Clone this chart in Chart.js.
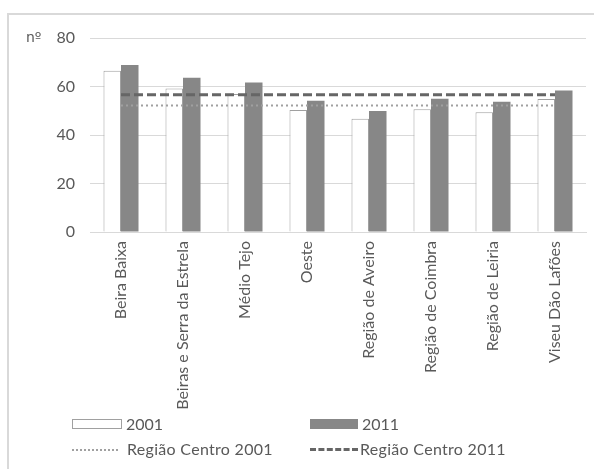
<!DOCTYPE html>
<html>
<head>
<meta charset="utf-8">
<script src="https://cdn.jsdelivr.net/npm/chart.js@4/dist/chart.umd.min.js"></script>
<style>
    html, body { margin: 0; padding: 0; background: #fff; overflow: hidden; }
    body { width: 594px; height: 469px; position: relative; font-family: Lato, sans-serif; color: #595959; }
    .frame { position: absolute; left: 7px; top: 13px; width: 640px; height: 520px; border: 2px solid #d9d9d9; box-sizing: border-box; }
    #wrap { position: absolute; left: 0; top: 0; width: 594px; height: 469px; }
    .legend-item { position: absolute; font-size: 16px; line-height: 20px; white-space: nowrap; }
    .swatch { position: absolute; box-sizing: border-box; }
</style>
</head>
<body>
<div class="frame"></div>
<div id="wrap"><canvas id="chart" width="594" height="469"></canvas></div>

<!-- legend, two columns under the axis labels -->
<div class="swatch" style="left:72px; top:419px; width:50px; height:10px; border:1px solid #a0a0a0; background:#fff;"></div>
<div class="legend-item" style="left:126px; top:414px;">2001</div>
<div class="swatch" style="left:310px; top:419px; width:48px; height:10px; background:#878787;"></div>
<div class="legend-item" style="left:362px; top:414px;">2011</div>
<div class="swatch" style="left:72px; top:449px; width:46px; height:0; border-top:2px dotted #a0a0a0;"></div>
<div class="legend-item" style="left:127px; top:439px; letter-spacing:0.3px;">Região Centro 2001</div>
<div class="swatch" style="left:310px; top:448px; width:48px; height:0; border-top:3px dashed #666;"></div>
<div class="legend-item" style="left:360px; top:439px; letter-spacing:0.3px;">Região Centro 2011</div>

<script>
    const regions = ["Beira Baixa", "Beiras e Serra da Estrela", "Médio Tejo", "Oeste",
        "Região de Aveiro", "Região de Coimbra", "Região de Leiria", "Viseu Dão Lafões"];
    const values2001 = [66.5, 59.2, 56.9, 50.3, 46.7, 50.6, 49.4, 54.8];
    const values2011 = [68.9, 63.6, 61.6, 54.1, 49.9, 55.0, 53.7, 58.4];
    const centro2001 = [52.2, 52.2, 52.2, 52.2, 52.2, 52.2, 52.2, 52.2];
    const centro2011 = [56.6, 56.6, 56.6, 56.6, 56.6, 56.6, 56.6, 56.6];
    const yTicks = [0, 20, 40, 60, 80];

    const textColor = "#595959";
    const gridColor = "#d9d9d9";
    const labelFont = { family: "Lato", size: 16 };

    // unit label "nº" next to the top tick
    const unitLabel = {
        id: "unitLabel",
        afterDraw(chart) {
            const ctx = chart.ctx;
            const y = chart.scales.y.getPixelForValue(yTicks[yTicks.length - 1]);
            ctx.save();
            ctx.fillStyle = textColor;
            ctx.font = "14px 'DejaVu Sans'";
            ctx.textBaseline = "middle";
            ctx.fillText("nº", 26, y);
            ctx.restore();
        }
    };

    new Chart(document.getElementById("chart"), {
        data: {
            labels: regions,
            datasets: [
                {
                    type: "line",
                    label: "Região Centro 2001",
                    data: centro2001,
                    borderColor: "#a0a0a0",
                    borderWidth: 2,
                    borderDash: [2, 3],
                    pointRadius: 0,
                    fill: false,
                    order: 0
                },
                {
                    type: "line",
                    label: "Região Centro 2011",
                    data: centro2011,
                    borderColor: "#666666",
                    borderWidth: 3,
                    borderDash: [9, 4],
                    pointRadius: 0,
                    fill: false,
                    order: 0
                },
                {
                    type: "bar",
                    label: "2001",
                    data: values2001,
                    backgroundColor: "#ffffff",
                    borderColor: "#a0a0a0",
                    borderWidth: 1,
                    categoryPercentage: 0.565,
                    barPercentage: 1,
                    order: 1
                },
                {
                    type: "bar",
                    label: "2011",
                    data: values2011,
                    backgroundColor: "#878787",
                    borderWidth: 0,
                    categoryPercentage: 0.565,
                    barPercentage: 1,
                    order: 1
                }
            ]
        },
        options: {
            responsive: false,
            animation: false,
            layout: { padding: { left: 0, top: 38, right: 8, bottom: 0 } },
            scales: {
                x: {
                    offset: true,
                    afterFit(scale) { scale.height = 237; },
                    grid: { display: false, drawTicks: false },
                    border: { color: gridColor, width: 1 },
                    ticks: {
                        color: textColor,
                        font: labelFont,
                        minRotation: 90,
                        maxRotation: 90,
                        autoSkip: false,
                        padding: 9
                    }
                },
                y: {
                    min: 0,
                    max: 80,
                    afterFit(scale) { scale.width = 90; },
                    grid: { color: gridColor, drawTicks: false },
                    border: { display: false },
                    ticks: {
                        stepSize: 20,
                        color: textColor,
                        font: labelFont,
                        padding: 15
                    }
                }
            },
            plugins: {
                legend: { display: false },
                tooltip: { enabled: false }
            }
        },
        plugins: [unitLabel]
    });
</script>
</body>
</html>
